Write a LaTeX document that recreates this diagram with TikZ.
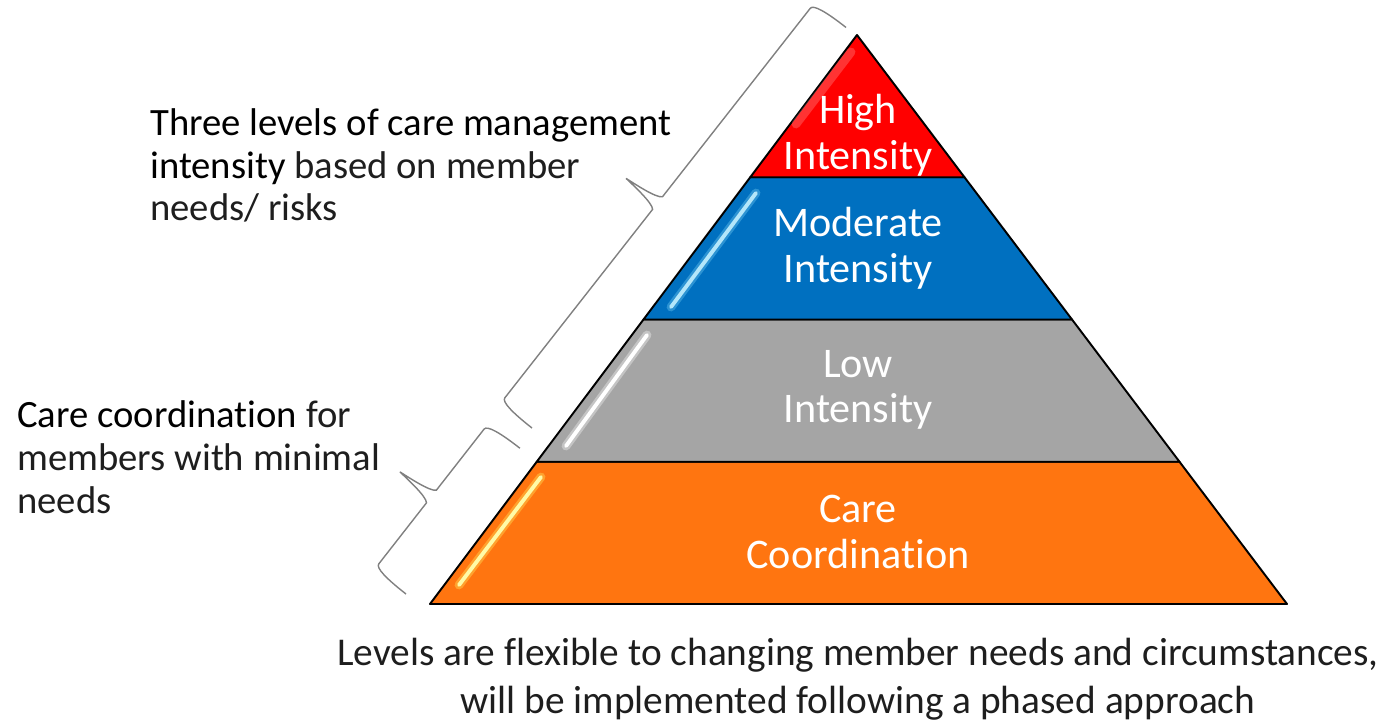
\documentclass[tikz,border=0pt]{standalone}
\usepackage{fontspec}
\setmainfont{Carlito}[Ligatures=NoCommon]
\usetikzlibrary{calc}
\definecolor{hired}{RGB}{255,0,0}
\definecolor{modblue}{RGB}{0,112,192}
\definecolor{lowgray}{RGB}{165,165,165}
\definecolor{carorange}{RGB}{255,117,16}
\definecolor{softink}{RGB}{30,30,30}
\tikzstyle{band} = [draw=black, line width=1.1pt, line join=round]
\tikzstyle{bracestroke} = [draw=black!50, line width=0.8pt]
\tikzstyle{level} = [text=white, align=center, inner sep=0pt, font=\fontsize{24}{26}\selectfont]
\tikzstyle{note} = [align=left, anchor=west, inner sep=0pt, font=\fontsize{22}{24.4}\selectfont]
\tikzstyle{shine} = [line width=2.2pt, line cap=round]
\tikzstyle{halo} = [line width=5pt, line cap=round, opacity=0.35]

% curly brace lying along a slope: start point, angle, length
\newcommand{\sidebrace}[3]{
	\begin{scope}[shift={#1}, rotate=#2]
		\draw[bracestroke] (0,0) .. controls (0,-25) and (2,-40) .. (7,-40)
			-- ({#3/2-8},-40) .. controls ({#3/2-3},-44) and ({#3/2-1},-70) .. ({#3/2},-80)
			.. controls ({#3/2+1},-70) and ({#3/2+3},-44) .. ({#3/2+8},-40)
			-- ({#3-7},-40) .. controls ({#3-2},-40) and (#3,-25) .. (#3,0);
	\end{scope}
}

\begin{document}
\begin{tikzpicture}[x=0.02cm, y=-0.02cm]
		\useasboundingbox (0,0) rectangle (1384,725);

		\coordinate (apex) at (857,35);
		\coordinate (bl) at (430,604);
		\coordinate (br) at (1287,604);
		\foreach \n/\f in {a/0.25,b/0.5,c/0.75}{
			\coordinate (l\n) at ($(bl)!\f!(apex)$);
			\coordinate (r\n) at ($(br)!\f!(apex)$);
		}

		\filldraw[band, fill=carorange] (bl) -- (br) -- (ra) -- (la) -- cycle;
		\filldraw[band, fill=lowgray] (la) -- (ra) -- (rb) -- (lb) -- cycle;
		\filldraw[band, fill=modblue] (lb) -- (rb) -- (rc) -- (lc) -- cycle;
		\filldraw[band, fill=hired] (lc) -- (rc) -- (apex) -- cycle;

		% glossy streaks near the left edge
		\draw[halo, draw=yellow!60!white] (541,477) -- (459,585);
		\draw[shine, draw=yellow!35!white] (541,477) -- (459,585);
		\draw[halo, draw=white] (647,335) -- (566,446);
		\draw[shine, draw=white] (647,335) -- (566,446);
		\draw[halo, draw=cyan!50!white] (756,193) -- (671,307);
		\draw[shine, draw=cyan!30!white] (756,193) -- (671,307);
		\draw[halo, draw=white, opacity=0.2] (851,52) -- (796,124);

		\node[level] (high) at (858,135.5) {High\\ Intensity};
		\node[level] (moderate) at (858,248) {Moderate\\ Intensity};
		\node[level] (low) at (858,390) {Low\\ Intensity};
		\node[level] (care) at (858,532) {Care\\ Coordination};

		\sidebrace{(532,428)}{51.9}{509}
		\sidebrace{(406,594)}{52}{185}

		\node[note] (tiers) at (150,165.5) {Three levels of care management\\ intensity {\color{softink}based on member}\\ {\color{softink}needs/ risks}};
		\node[note] (coord) at (17,457) {Care coordination {\color{softink}for}\\ {\color{softink}members with minimal}\\ {\color{softink}needs}};

		\node[align=center, inner sep=0pt, text=softink, font=\fontsize{22.4}{27.2}\selectfont] (flex) at (858,679)
			{Levels are flexible to changing member needs and circumstances,\\ will be implemented following a phased approach};
	\end{tikzpicture}
\end{document}
